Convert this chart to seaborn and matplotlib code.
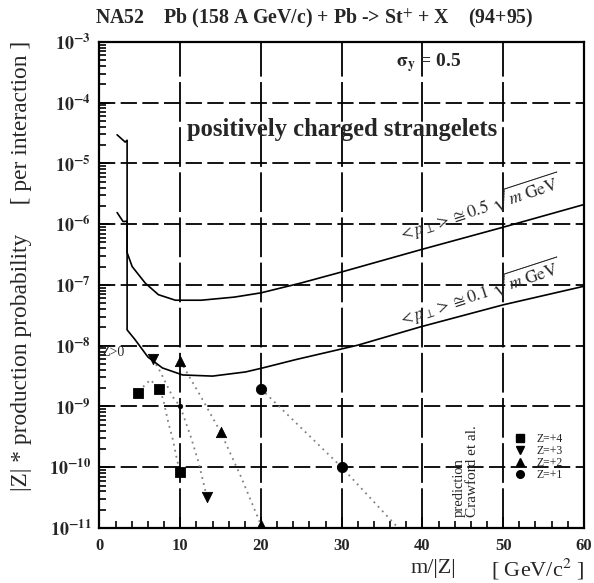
import numpy as np
import matplotlib
matplotlib.use("Agg")
import matplotlib.pyplot as plt
from matplotlib.ticker import FixedLocator, FuncFormatter, LogLocator, NullFormatter, MultipleLocator
from matplotlib.lines import Line2D
import seaborn as sns

# Upper sensitivity limit, <pT> = 0.5 sqrt(m) GeV
upper_x = [2.18, 3.18, 3.42, 3.42, 4.05, 5.67, 7.3, 9.4, 12.6, 16.7, 20.0, 24.9, 29.9, 39.8, 50.0, 60.0]
upper_y = [2.95e-5, 2.24e-5, 2.40e-5, 3.39e-7, 2.0e-7, 1.07e-7, 6.9e-8, 5.6e-8, 5.6e-8, 6.3e-8,
           7.4e-8, 1.07e-7, 1.62e-7, 3.8e-7, 8.9e-7, 2.1e-6]

# Lower sensitivity limit, <pT> = 0.1 sqrt(m) GeV
lower_x = [2.18, 2.93, 3.42, 3.42, 4.4, 6.0, 7.8, 10.3, 14.0, 18.1, 20.2, 24.3, 32.0, 39.75, 50.0, 60.0]
lower_y = [1.55e-6, 1.10e-6, 1.12e-6, 1.82e-8, 1.26e-8, 6.5e-9, 4.3e-9, 3.3e-9, 3.16e-9, 3.7e-9,
           4.3e-9, 5.9e-9, 1.02e-8, 2.04e-8, 4.7e-8, 9.5e-8]

# Crawford et al. predictions: dotted curves
z4_curve_x = [5.4, 6.3, 7.4, 7.9, 8.5, 9.1, 9.6, 10.0]
z4_curve_y = [2.1e-9, 2.75e-9, 1.95e-9, 1.29e-9, 5.6e-10, 2.8e-10, 1.32e-10, 8.3e-11]
z3_curve_x = [6.6, 7.5, 8.2, 9.05, 10.0, 11.3, 12.3, 13.3]
z3_curve_y = [6.0e-9, 3.8e-9, 2.45e-9, 1.45e-9, 1.0e-9, 3.2e-10, 1.17e-10, 3.2e-11]
z2_curve_x = [10.0, 12.5, 15.0, 17.5, 20.0]
z2_curve_y = [5.6e-9, 1.5e-9, 3.8e-10, 7.1e-11, 1.12e-11]
z1_curve_x = [20.0, 30.0, 37.0]
z1_curve_y = [1.95e-9, 1.0e-10, 1.0e-11]

# Crawford et al. predictions: points
z4_x = [4.8, 7.4, 10.0]
z4_y = [1.66e-9, 1.95e-9, 8.3e-11]
z3_x = [6.6, 13.3]
z3_y = [6.0e-9, 3.2e-11]
z3_small_x = [10.0]
z3_small_y = [1.0e-9]
z2_x = [10.0, 15.0, 20.0]
z2_y = [5.6e-9, 3.8e-10, 1.12e-11]
z1_x = [20.0, 30.0]
z1_y = [1.95e-9, 1.0e-10]

legend_labels = ["Z=+4", "Z=+3", "Z=+2", "Z=+1"]
x_ticks = [0, 10, 20, 30, 40, 50, 60]
y_decades = list(range(-11, -2))

sns.set_style("ticks")
plt.rcParams["font.family"] = ["Liberation Serif", "DejaVu Serif"]
plt.rcParams["mathtext.fontset"] = "stix"

fig = plt.figure(figsize=(5.94, 5.83), dpi=100)
ax = fig.add_axes([0.1675, 0.0943, 0.8155, 0.834])
ax.set_yscale("log")

# grid
for d in y_decades:
    ax.axhline(10.0 ** d, color="black", lw=1.3, ls=(0, (9, 3)), zorder=1)
for xv in x_ticks[1:-1]:
    ax.axvline(xv, color="black", lw=1.3, ls=(0, (22, 3)), zorder=1)

# limit curves
for xs, ys in [(upper_x, upper_y), (lower_x, lower_y)]:
    sns.lineplot(x=xs, y=ys, sort=False, estimator=None, color="black", lw=1.2, ax=ax, zorder=3)

# prediction curves
for xs, ys in [(z4_curve_x, z4_curve_y), (z3_curve_x, z3_curve_y),
               (z2_curve_x, z2_curve_y), (z1_curve_x, z1_curve_y)]:
    sns.lineplot(x=xs, y=ys, sort=False, estimator=None, color="#808080", lw=1.3,
                 ls=(0, (1, 2.4)), ax=ax, zorder=2)

# prediction points
sns.scatterplot(x=z4_x, y=z4_y, marker="s", s=55, color="black", edgecolor="black", ax=ax, zorder=4)
sns.scatterplot(x=z3_x, y=z3_y, marker="v", s=55, color="black", edgecolor="black", ax=ax, zorder=4)
sns.scatterplot(x=z3_small_x, y=z3_small_y, marker="o", s=12, color="black", edgecolor="black", ax=ax, zorder=4)
sns.scatterplot(x=z2_x, y=z2_y, marker="^", s=55, color="black", edgecolor="black", ax=ax, zorder=4)
sns.scatterplot(x=z1_x, y=z1_y, marker="o", s=55, color="black", edgecolor="black", ax=ax, zorder=4)

ax.set_xlim(0, 60)
ax.set_ylim(1e-11, 1e-3)

# ticks
ax.xaxis.set_major_locator(FixedLocator(x_ticks))
ax.xaxis.set_minor_locator(MultipleLocator(2))
ax.yaxis.set_major_locator(FixedLocator([10.0 ** d for d in y_decades]))
ax.yaxis.set_minor_locator(LogLocator(base=10, subs=np.arange(2, 10), numticks=20))
ax.yaxis.set_minor_formatter(NullFormatter())
ax.yaxis.set_major_formatter(FuncFormatter(
    lambda v, p: r"$\mathbf{10^{%d}}$" % int(round(np.log10(v)))))
ax.tick_params(axis="both", which="both", direction="in", top=False, right=False,
               color="black", width=1.2)
ax.tick_params(axis="y", which="major", length=8, pad=6, labelsize=13)
ax.tick_params(axis="y", which="minor", length=5)
ax.tick_params(axis="x", which="major", length=8, pad=7, labelsize=12)
ax.tick_params(axis="x", which="minor", length=5)
for lbl in ax.get_xticklabels():
    lbl.set_fontweight("bold")
for s in ax.spines.values():
    s.set_linewidth(1.6)
    s.set_color("black")

# texts
fig.text(95 / 594, 1 - 18 / 583, "NA52    Pb (158 A GeV/c) + Pb -> St$^{+}$ + X    (94+95)",
         fontsize=14.3, fontweight="bold", ha="left", va="center")
ax.text(0.612, 0.958, r"$\mathbf{\sigma_y}$ = 0.5", transform=ax.transAxes,
        fontsize=14, fontweight="bold", ha="left", va="center")
ax.text(0.50, 0.82, "positively charged strangelets", transform=ax.transAxes,
        fontsize=17.7, fontweight="bold", ha="center", va="center")
ax.text(37.2, 10 ** -6.26, r"$<p_{\perp}> \cong 0.5\ \sqrt{m\ \mathrm{GeV}}$",
        rotation=18, rotation_mode="anchor", ha="left", va="baseline", fontsize=12.5)
ax.text(37.2, 10 ** -7.66, r"$<p_{\perp}> \cong 0.1\ \sqrt{m\ \mathrm{GeV}}$",
        rotation=18, rotation_mode="anchor", ha="left", va="baseline", fontsize=12.5)
ax.text(0.003, 0.362, "Z>0", transform=ax.transAxes, fontsize=10, ha="left", va="center")
ax.text(0.742, 0.022, "prediction", transform=ax.transAxes, rotation=90,
        rotation_mode="anchor", ha="left", va="center", fontsize=10.5)
ax.text(0.771, 0.022, "Crawford et al.", transform=ax.transAxes, rotation=90,
        rotation_mode="anchor", ha="left", va="center", fontsize=11)

handles = [Line2D([], [], marker=m, ls="none", color="black", ms=5.5)
           for m in ["s", "v", "^", "o"]]
ax.legend(handles, legend_labels, loc="upper left", bbox_to_anchor=(0.86, 0.196),
          frameon=False, prop={"family": "Liberation Serif", "size": 8.5},
          handlelength=0.7, handletextpad=1.0, labelspacing=0.02,
          borderpad=0, borderaxespad=0)

ax.set_xlabel("")
ax.set_ylabel("")
fig.text(433 / 594, 1 - 569 / 583, "m/|Z|", fontsize=16, ha="center", va="center")
fig.text(538 / 594, 1 - 569 / 583, "[ GeV/c$^{2}$ ]", fontsize=16, ha="center", va="center")
fig.text(22 / 594, 1 - 266 / 583, "|Z| * production probability     [ per interaction ]",
         rotation=90, ha="center", va="center", fontsize=16.8)

fig.savefig("out.png", dpi=100)
